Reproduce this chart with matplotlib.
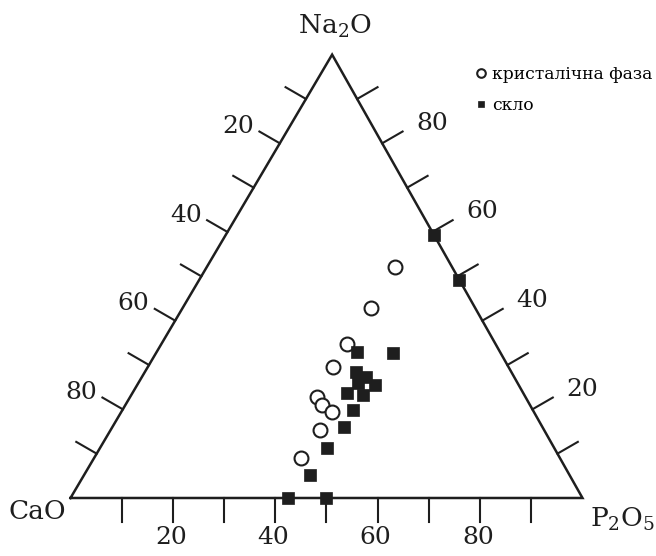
import numpy as np
import matplotlib
matplotlib.use('Agg')
import matplotlib.pyplot as plt

plt.rcParams['font.family'] = ['DejaVu Serif']
plt.rcParams['mathtext.default'] = 'regular'

# compositions, mol % (CaO, Na2O, P2O5)
cryst_cao = [11.1, 20.4, 29.1, 34.3, 40.8, 40.7, 39.4, 43.7, 50.6]
cryst_na2o = [52.2, 42.8, 34.7, 29.5, 22.8, 21.0, 19.5, 15.4, 9.0]
cryst_p2o5 = [36.7, 36.8, 36.2, 36.2, 36.4, 38.3, 41.1, 40.9, 40.4]

glass_cao = [28.0, 21.1, 30.3, 28.9, 28.1, 31.1, 34.4, 31.5, 35.1, 38.9,
             44.4, 50.7, 57.5, 50.0, 0.0, 0.0]
glass_na2o = [33.0, 32.6, 28.4, 27.3, 25.5, 25.9, 23.6, 23.2, 19.8, 15.9,
              11.3, 5.2, 0.0, 0.0, 59.3, 49.2]
glass_p2o5 = [39.0, 46.3, 41.3, 43.8, 46.4, 43.0, 42.0, 45.3, 45.1, 45.2,
              44.3, 44.1, 42.5, 50.0, 40.7, 50.8]

tick_values = [10, 20, 30, 40, 50, 60, 70, 80, 90]
label_values = [20, 40, 60, 80]

H = np.sqrt(3) / 2
SKEW = 0.011  # apex of the printed triangle sits a bit right of centre


def to_xy(cao, na2o, p2o5):
    cao, na2o, p2o5 = (np.asarray(v, dtype=float) for v in (cao, na2o, p2o5))
    total = cao + na2o + p2o5
    na = na2o / total * 100
    p = p2o5 / total * 100
    return p + na * (0.5 + SKEW), na * H


fig = plt.figure(figsize=(6.56, 5.56), dpi=100)
ax = fig.add_axes([0, 0, 1, 1])
ax.set_xlim(-13.77, 114.36)
ax.set_ylim(-11.33, 97.27)
ax.axis('off')

ink = '#1e1e1e'

# frame
cx, cy = to_xy([100, 0, 0, 100], [0, 0, 100, 0], [0, 100, 0, 0])
ax.plot(cx, cy, color=ink, lw=1.8, solid_joinstyle='miter', zorder=2)

# ticks and tick labels
tl = 4.6
c30, s30 = np.cos(np.pi / 6), np.sin(np.pi / 6)
for v in tick_values:
    # bottom: P2O5
    x, y = to_xy(100 - v, 0, v)
    ax.plot([x, x], [y, y - tl], color=ink, lw=1.5, zorder=2)
    if v in label_values:
        ax.text(x - 0.4, y - 7.7, str(v), ha='center', va='center',
                fontsize=18, color=ink)
    # left: CaO
    x, y = to_xy(v, 100 - v, 0)
    ax.plot([x, x - tl * c30], [y, y + tl * s30], color=ink, lw=1.5, zorder=2)
    if v in label_values:
        ax.text(x - 8.1, y + 3.3, str(v), ha='center', va='center',
                fontsize=18, color=ink)
    # right: Na2O
    x, y = to_xy(0, v, 100 - v)
    ax.plot([x, x + tl * c30], [y, y + tl * s30], color=ink, lw=1.5, zorder=2)
    if v in label_values:
        ax.text(x + 9.8, y + 3.9, str(v), ha='center', va='center',
                fontsize=18, color=ink)

# corner names
x, y = to_xy(0, 100, 0)
ax.text(x + 0.6, y + 5.5, 'Na$_2$O', ha='center', va='center', fontsize=19, color=ink)
x, y = to_xy(100, 0, 0)
ax.text(x - 6.45, y - 2.7, 'CaO', ha='center', va='center', fontsize=19, color=ink)
x, y = to_xy(0, 0, 100)
ax.text(x + 7.7, y - 4.1, 'P$_2$O$_5$', ha='center', va='center', fontsize=19, color=ink)

# data
gx, gy = to_xy(glass_cao, glass_na2o, glass_p2o5)
kx, ky = to_xy(cryst_cao, cryst_na2o, cryst_p2o5)
ax.plot(kx, ky, 'o', ms=10, mfc='white', mec=ink, mew=1.5, zorder=3,
        label='кристалічна фаза')
ax.plot(gx, gy, 's', ms=8, mfc=ink, mec=ink, mew=0.5, zorder=4,
        label='скло')

ax.legend(loc='upper left', bbox_to_anchor=(0.727, 0.882), frameon=False,
          fontsize=12.3, markerscale=0.62, handlelength=0.5, handletextpad=0.4,
          labelspacing=0.85, borderpad=0, borderaxespad=0)

fig.savefig('out.png', dpi=100)
